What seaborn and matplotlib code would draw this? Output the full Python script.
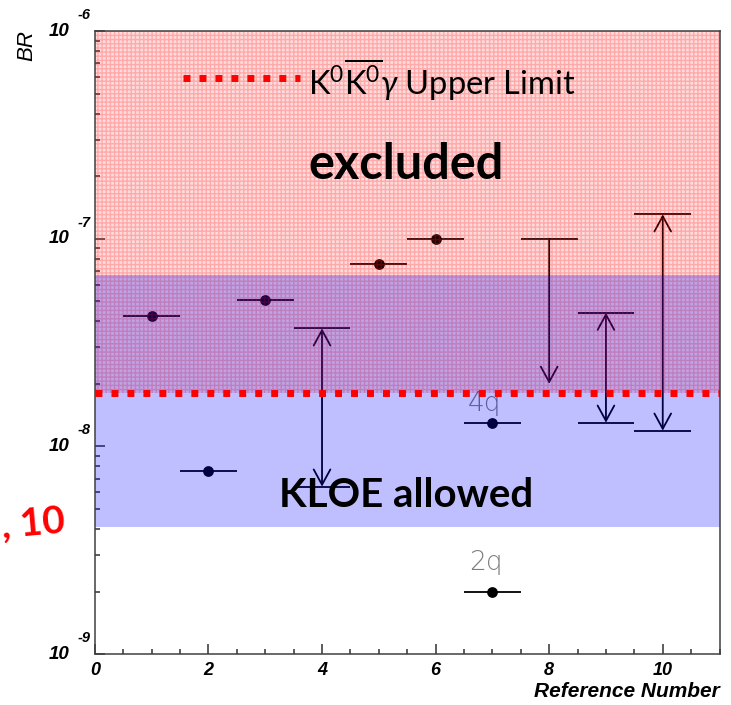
import matplotlib
matplotlib.use("Agg")
import matplotlib.pyplot as plt
import seaborn as sns
import pandas as pd
from matplotlib.ticker import MultipleLocator, LogLocator, NullFormatter, FixedLocator
from matplotlib.lines import Line2D

# ---- measured branching ratios (points with x-bin width) ----
ref_points = [1, 2, 3, 5, 6, 7, 7]
br_points = [4.25e-8, 7.6e-9, 5.07e-8, 7.55e-8, 1.0e-7, 1.3e-8, 2.0e-9]
point_tags = ["", "", "", "", "", "4q", "2q"]

# ---- predicted ranges drawn as arrows ----
range_refs = [4, 8, 9, 10]
range_high = [3.7e-8, 1.0e-7, 4.4e-8, 1.31e-7]
range_low = [6.4e-9, 2.0e-8, 1.3e-8, 1.19e-8]
range_two_sided = [True, False, True, True]

bin_half_width = 0.5

# ---- bands ----
upper_limit = 1.8e-8
excluded_top = 1.0e-6
kloe_low = 4.1e-9
kloe_high = 6.7e-8

decades = [1e-9, 1e-8, 1e-7, 1e-6]
decade_exponents = ["-9", "-8", "-7", "-6"]
x_major = [0, 2, 4, 6, 8, 10]

sns.set_style("ticks")
plt.rcParams["hatch.linewidth"] = 1.0
plt.rcParams["text.color"] = "black"
plt.rcParams["mathtext.fontset"] = "custom"
plt.rcParams["mathtext.rm"] = "Lato"
plt.rcParams["mathtext.it"] = "Lato:italic"

W, H = 731, 705
fig = plt.figure(figsize=(W / 100, H / 100), dpi=100)
ax = fig.add_axes([0.1298, 0.0723, 0.8545, 0.8837])
ax.set_yscale("log")
ax.set_xlim(0, 11)
ax.set_ylim(1e-9, 1e-6)

ink = "black"
lw = 1.3

# points with horizontal bin bars
df = pd.DataFrame({"ref": ref_points, "br": br_points, "tag": point_tags})
ax.errorbar(df["ref"], df["br"], xerr=bin_half_width, fmt="none",
            ecolor=ink, elinewidth=lw, capsize=0, zorder=2)
sns.scatterplot(data=df, x="ref", y="br", ax=ax, color=ink, s=60,
                edgecolor=ink, linewidth=0, zorder=2.2, legend=False)

tag_offsets = {"4q": (-8, 7), "2q": (-6, 17)}
for _, row in df[df["tag"] != ""].iterrows():
    dx, dy = tag_offsets[row["tag"]]
    ax.annotate(row["tag"], xy=(row["ref"], row["br"]), xytext=(dx, dy),
                textcoords="offset pixels", ha="center", va="bottom",
                fontsize=19, color="#7d7d7d", family="DejaVu Sans",
                fontweight="light", zorder=2)

# ranges: caps plus arrows
for x, hi, lo, two in zip(range_refs, range_high, range_low, range_two_sided):
    ax.hlines(hi, x - bin_half_width, x + bin_half_width, color=ink, lw=lw, zorder=2)
    style = "<->" if two else "->"
    if two:
        ax.hlines(lo, x - bin_half_width, x + bin_half_width, color=ink, lw=lw, zorder=2)
    ax.annotate("", xy=(x, lo), xytext=(x, hi),
                arrowprops=dict(arrowstyle=f"{style},head_length=1.1,head_width=0.6",
                                color=ink, lw=lw, shrinkA=0, shrinkB=0),
                zorder=2)

# excluded band (hatched) with the KLOE allowed band laid over it
ax.axhspan(upper_limit, excluded_top, facecolor=(1, 0, 0, 0.14),
           edgecolor=(1, 0.1, 0.1, 0.25), hatch="++++", lw=0, zorder=3)
ax.axhspan(kloe_low, kloe_high, facecolor=(0, 0, 1, 0.25), lw=0, zorder=4)

# upper limit line
dots = dict(color="red", lw=5, linestyle=(0, (1, 1.3)), dash_capstyle="butt")
ax.axhline(upper_limit, zorder=5, **dots)

# legend entry
ax.add_line(Line2D([0.141, 0.329], [0.9246, 0.9246], transform=ax.transAxes,
                   zorder=6, **dots))
ax.text(0.341, 0.897, r"K$^0\overline{\mathrm{K}^0}\mathit{\gamma}$ Upper Limit",
        transform=ax.transAxes, ha="left", va="baseline", fontsize=23.5,
        family="Lato", color="black", zorder=6)

ax.text(0.4985, 0.785, "excluded", transform=ax.transAxes, ha="center",
        va="center", fontsize=35, fontweight="bold", family="Lato",
        color="black", zorder=6)
ax.text(0.4985, 0.255, "KLOE allowed", transform=ax.transAxes, ha="center",
        va="center", fontsize=29, fontweight="bold", family="Lato",
        color="black", zorder=6)

fig.text(66 / W, 1 - 523 / H, ", 10", ha="right", va="center", fontsize=28,
         fontweight="bold", family="Lato", color="red", rotation=5)

# axes frame and ticks
for sp in ax.spines.values():
    sp.set_color("#404040")
    sp.set_linewidth(1.1)
    sp.set_zorder(10)

ax.xaxis.set_major_locator(FixedLocator(x_major))
ax.xaxis.set_minor_locator(MultipleLocator(0.5))
ax.yaxis.set_major_locator(FixedLocator(decades))
ax.yaxis.set_minor_locator(LogLocator(base=10, subs=range(2, 10)))
ax.yaxis.set_major_formatter(NullFormatter())
ax.yaxis.set_minor_formatter(NullFormatter())
ax.tick_params(axis="both", which="major", direction="in", length=7, width=1.1,
               color="#303030", labelcolor="black", top=False, right=False)
ax.tick_params(axis="both", which="minor", direction="in", length=3.6, width=1.1,
               color="#303030", top=False, right=False)
ax.tick_params(axis="x", which="major", pad=6)
ax.set_xticklabels([str(v) for v in x_major], fontsize=13, fontweight="bold",
                   style="italic", family="Liberation Sans", color="black")

# decade labels drawn ROOT-style: "10" with the exponent up and to the right
for val, ex in zip(decades, decade_exponents):
    ax.annotate("10", xy=(0, val), xycoords=("axes fraction", "data"),
                xytext=(-25, 0), textcoords="offset pixels", ha="right",
                va="center", fontsize=13.5, fontweight="bold", style="italic",
                family="Liberation Sans", color="black", annotation_clip=False)
    ax.annotate(ex, xy=(0, val), xycoords=("axes fraction", "data"),
                xytext=(-17, 16), textcoords="offset pixels", ha="left",
                va="center", fontsize=10.5, fontweight="bold", style="italic",
                family="Liberation Sans", color="black", annotation_clip=False)

ax.set_xlabel("")
ax.set_ylabel("")
ax.text(1.0, -0.069, "Reference Number", transform=ax.transAxes, ha="right",
        va="baseline", fontsize=15, fontweight="bold", style="italic",
        family="Liberation Sans", color="black")
ax.text(-0.1087, 0.9775, "BR", transform=ax.transAxes, ha="center", va="center",
        rotation=90, fontsize=16, style="italic", family="Liberation Sans",
        color="black")

fig.savefig("out.png", dpi=100)
